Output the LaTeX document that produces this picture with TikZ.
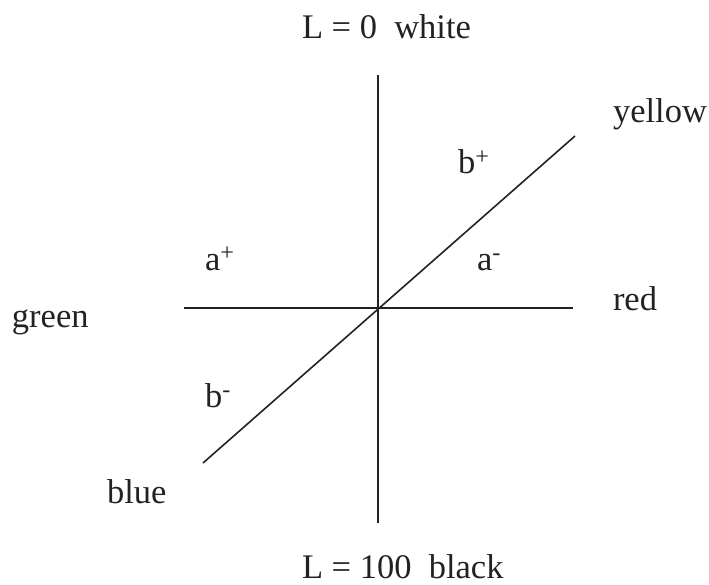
\documentclass[tikz,border=0pt]{standalone}
\usepackage{fontspec}
\setmainfont{Liberation Serif}
\definecolor{ink}{HTML}{222222}
\begin{document}
\begin{tikzpicture}[x=1pt,y=-1pt,
  lbl/.style={anchor=base west,inner sep=0pt,outer sep=0pt,text=ink,font=\fontsize{34.5}{40}\selectfont},
  axis/.style={draw=ink,line width=1.6pt}]
\useasboundingbox (0,0) rectangle (709,585);
\coordinate (O) at (378,308);
\coordinate (top) at (378,75);
\coordinate (bot) at (378,523);
\coordinate (left) at (184,308);
\coordinate (right) at (573,308);
\coordinate (ne) at (575,136);
\coordinate (sw) at (203,463);
\draw[axis] (top) -- (bot);
\draw[axis] (left) -- (right);
\draw[axis] (sw) -- (ne);
\node[lbl] (white) at (302,39) {L = 0\ \ white};
\node[lbl] (black) at (302,578) {L = 100\ \ black};
\node[lbl] (yellow) at (613,123) {yellow};
\node[lbl] (red) at (613,310) {red};
\node[lbl] (green) at (12,327) {green};
\node[lbl] (blue) at (107,503) {blue};
\node[lbl] (bp) at (458,174) {b\textsuperscript{+}};
\node[lbl] (ap) at (205,270) {a\textsuperscript{+}};
\node[lbl] (am) at (477,270) {a\textsuperscript{-}};
\node[lbl] (bm) at (205,407) {b\textsuperscript{-}};
\end{tikzpicture}
\end{document}
